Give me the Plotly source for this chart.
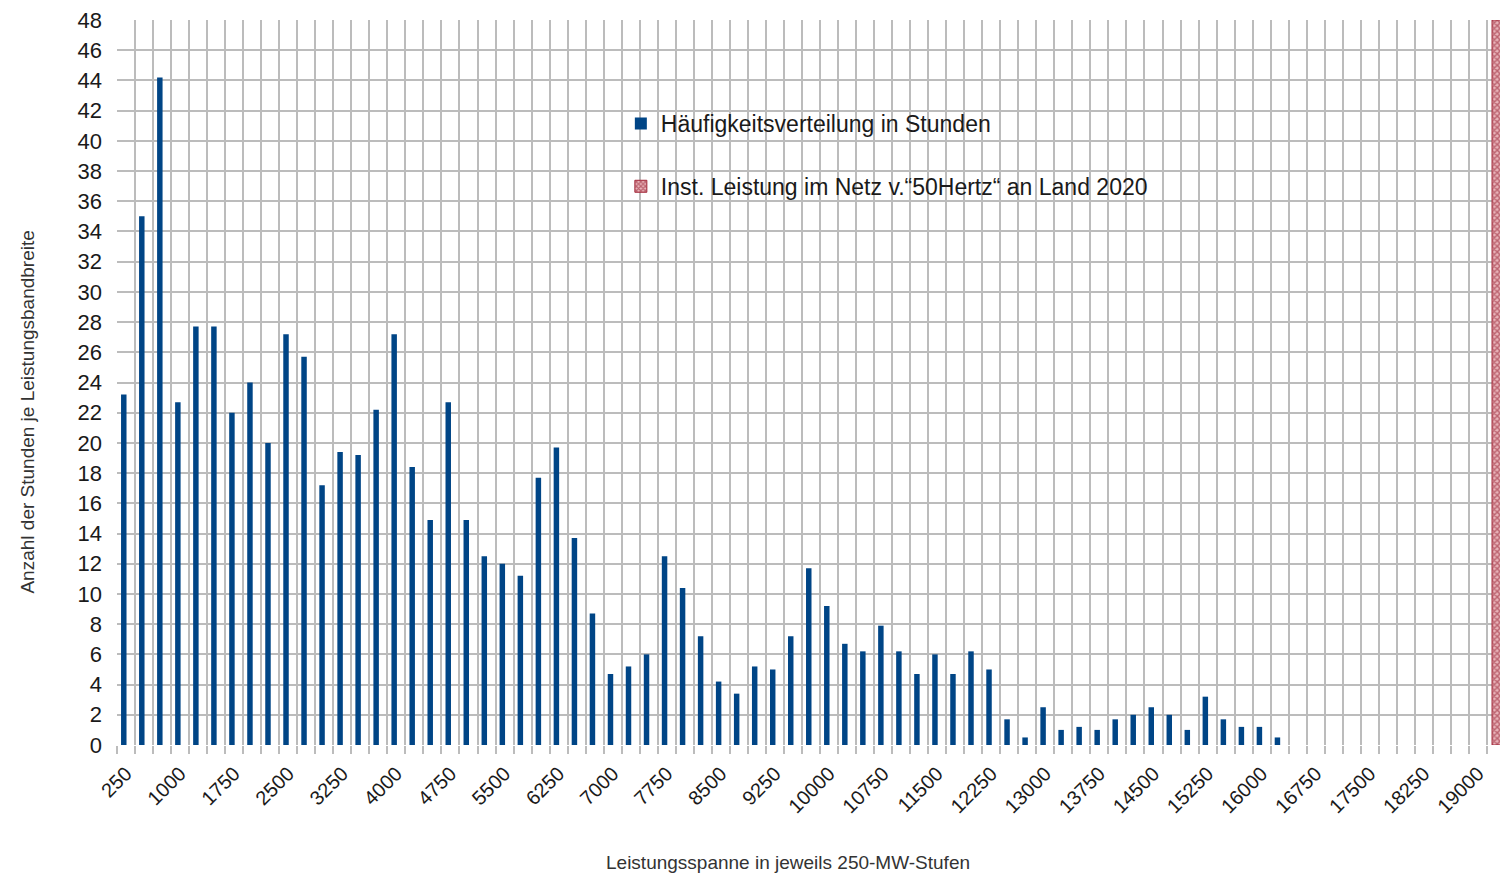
import plotly.graph_objects as go

# Categories: power ranges in 250-MW steps
categories = [250 * k for k in range(1, 78)]  # 250 ... 19250

# Frequency distribution in hours (blue series)
hours = [
    23.2, 35.0, 44.2, 22.7, 27.7, 27.7, 22.0, 24.0, 20.0, 27.2,
    25.7, 17.2, 19.4, 19.2, 22.2, 27.2, 18.4, 14.9, 22.7, 14.9,
    12.5, 12.0, 11.2, 17.7, 19.7, 13.7, 8.7, 4.7, 5.2, 6.0,
    12.5, 10.4, 7.2, 4.2, 3.4, 5.2, 5.0, 7.2, 11.7, 9.2,
    6.7, 6.2, 7.9, 6.2, 4.7, 6.0, 4.7, 6.2, 5.0, 1.7,
    0.5, 2.5, 1.0, 1.2, 1.0, 1.7, 2.0, 2.5, 2.0, 1.0,
    3.2, 1.7, 1.2, 1.2, 0.5, 0, 0, 0, 0, 0,
    0, 0, 0, 0, 0, 0, 0,
]

# Installed capacity marker (red hatched series) – only in last category
installed_x = [19250]
installed_y = [48]

# Tick labels (every third category)
labeled_categories = categories[0:76:3]

y_ticks = list(range(0, 49, 2))

STEP = 250
# category boundaries carry the grid lines / tick marks
boundaries = [c - STEP / 2 for c in categories] + [categories[-1] + STEP / 2]
boundary_text = [str(int(b + STEP / 2)) if (b + STEP / 2) in labeled_categories else "" for b in boundaries]

GRID = "#bcbcbc"
FONT = "Liberation Sans, Arial, sans-serif"

fig = go.Figure()
fig.add_trace(go.Bar(
    x=categories, y=hours,
    name="Häufigkeitsverteilung in Stunden",
    marker=dict(color="#004586", line=dict(width=0)),
    offset=-69, width=76,
    legendgroup="a",
))
fig.add_trace(go.Bar(
    x=installed_x, y=installed_y,
    name="Inst. Leistung im Netz v.“50Hertz“ an Land 2020",
    marker=dict(
        color="#8e1426",
        line=dict(width=1, color="#a32a3b"),
        pattern=dict(shape="x", fgcolor="#8e1426", bgcolor="#e9b3b9", size=4, solidity=0.6),
    ),
    offset=-55, width=160,
    legendgroup="b",
))

# page body has an 8 px margin -> figure is 8 px smaller and margins compensate
fig.update_layout(
    width=1500, height=867,
    margin=dict(l=109, r=3, t=12, b=130, autoexpand=False),
    paper_bgcolor="white", plot_bgcolor="white",
    font=dict(family=FONT, color="#1a1a1a"),
    barmode="overlay",
    showlegend=True,
    legend=dict(
        x=0.363, y=0.887, xanchor="left", yanchor="top",
        bgcolor="rgba(0,0,0,0)",
        font=dict(size=23, color="#1a1a1a", family=FONT),
        traceorder="grouped", tracegroupgap=30,
        itemwidth=30,
    ),
    xaxis=dict(
        range=[boundaries[0], boundaries[-1]],
        tickmode="array", tickvals=boundaries, ticktext=boundary_text,
        ticklabelshift=9, ticklabeloverflow="allow",
        tickangle=-45, ticks="outside", ticklen=8, tickcolor=GRID, tickwidth=1.5,
        showgrid=True, gridcolor=GRID, gridwidth=1.5,
        zeroline=False, showline=False, automargin=False,
        tickfont=dict(size=20, color="#1a1a1a"),
    ),
    yaxis=dict(
        range=[0, 48], tickmode="array", tickvals=y_ticks,
        showgrid=True, gridcolor=GRID, gridwidth=1.5, zeroline=False, showline=False,
        ticks="", ticklabelstandoff=14, automargin=False, ticklabeloverflow="allow",
        tickfont=dict(size=22, color="#1a1a1a"),
    ),
    annotations=[
        dict(text="Leistungsspanne in jeweils 250-MW-Stufen", xref="paper", yref="paper",
             x=0.4837, y=-0.1614, xanchor="center", yanchor="middle", showarrow=False,
             font=dict(size=19, color="#333333")),
        dict(text="Anzahl der Stunden je Leistungsbandbreite", xref="paper", yref="paper",
             x=-0.0646, y=0.459, xanchor="center", yanchor="middle", showarrow=False,
             textangle=-90, font=dict(size=19, color="#333333")),
    ],
)

fig.write_html("out.html")
